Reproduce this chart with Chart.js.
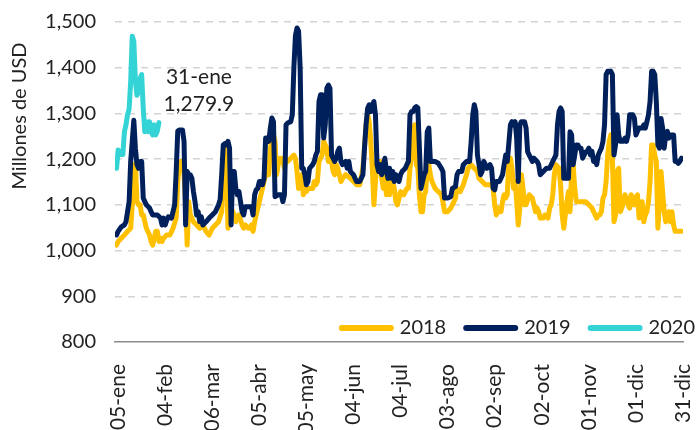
<!DOCTYPE html>
<html lang="es">
<head>
<meta charset="UTF-8">
<title>Millones de USD 2018-2020</title>
<script src="https://cdn.jsdelivr.net/npm/chart.js@4"></script>
<style>
  body { margin: 0; background: #fff; }
  #chart { display: block; }
</style>
</head>
<body>
<canvas id="chart" width="698" height="430"></canvas>
<script>
// x = days counted from 05-ene
const tickDays = [0, 30, 60, 90, 120, 150, 180, 210, 240, 270, 300, 330, 360];
const tickLabels = ['05-ene', '04-feb', '06-mar', '05-abr', '05-may', '04-jun', '04-jul',
                    '03-ago', '02-sep', '02-oct', '01-nov', '01-dic', '31-dic'];
const yTicks = [800, 900, 1000, 1100, 1200, 1300, 1400, 1500];

const days2018 = [-1,0,2,4,6,8,9,10,11,12,13,14,15,16,17,18,20,21,22,24,25,26,27,28,29,31,33,35,37,38,39,40,41,42,43,44,45,46,48,50,52,54,56,58,60,62,64,66,67,68,69,70,71,72,74,75,77,79,80,81,83,84,85,86,87,88,89,90,91,92,93,94,96,97,99,100,101,102,103,104,105,106,107,108,110,112,113,114,115,116,117,118,119,120,121,122,124,125,126,127,128,129,130,131,133,134,135,136,137,138,139,140,141,142,143,145,148,150,152,154,156,157,158,159,160,161,162,163,164,165,166,167,168,169,170,171,172,173,174,175,176,177,178,180,182,184,185,186,187,188,189,190,191,192,193,194,195,196,197,198,199,200,202,204,206,207,208,210,212,214,215,216,218,220,222,223,225,227,229,230,232,234,236,238,239,240,241,242,243,244,245,246,247,248,249,250,251,252,253,254,255,256,257,258,259,260,262,264,265,266,267,268,269,271,272,273,274,275,276,277,278,279,281,282,283,284,285,286,287,288,289,290,291,292,294,296,298,300,302,303,304,305,306,307,308,309,310,311,312,313,314,315,316,317,318,319,320,321,323,324,325,326,327,328,329,330,331,332,333,334,335,336,337,338,339,340,341,342,343,344,345,346,347,348,349,350,351,352,353,354,355,357,359];
const usd2018 = [1012,1020,1027,1034,1042,1049,1100,1150,1190,1107,1100,1100,1078,1078,1063,1049,1034,1020,1012,1042,1042,1020,1027,1020,1027,1034,1034,1049,1071,1151,1188,1195,1195,1166,1107,1012,1107,1078,1063,1056,1049,1056,1042,1034,1049,1056,1063,1085,1173,1224,1180,1049,1078,1093,1078,1063,1078,1056,1049,1056,1049,1049,1056,1042,1063,1078,1093,1107,1122,1136,1151,1166,1166,1224,1253,1239,1166,1188,1202,1202,1195,1180,1202,1195,1202,1209,1202,1173,1136,1150,1166,1122,1144,1129,1136,1136,1136,1151,1144,1151,1195,1202,1209,1239,1224,1195,1202,1195,1173,1166,1188,1180,1166,1151,1158,1166,1158,1151,1144,1144,1180,1224,1275,1297,1282,1239,1180,1100,1151,1195,1195,1195,1158,1136,1166,1122,1151,1122,1144,1151,1136,1107,1100,1129,1122,1136,1136,1180,1209,1268,1275,1188,1180,1122,1085,1085,1122,1129,1188,1188,1166,1151,1136,1129,1122,1107,1085,1085,1093,1107,1115,1136,1129,1144,1166,1180,1188,1180,1173,1158,1151,1144,1144,1144,1136,1100,1078,1093,1085,1085,1107,1122,1115,1122,1195,1202,1180,1136,1151,1107,1056,1093,1166,1136,1100,1100,1122,1115,1100,1085,1093,1085,1071,1071,1078,1078,1071,1093,1100,1122,1166,1188,1180,1144,1078,1049,1078,1107,1129,1085,1173,1188,1136,1107,1107,1107,1107,1100,1093,1085,1078,1071,1078,1078,1085,1115,1122,1151,1209,1239,1253,1202,1063,1078,1173,1180,1085,1093,1122,1115,1100,1093,1122,1115,1100,1115,1122,1071,1100,1107,1063,1078,1085,1107,1151,1231,1231,1209,1195,1049,1107,1173,1129,1085,1063,1078,1085,1063,1085,1056,1042,1042,1042];

const days2019 = [-1,0,2,4,5,6,7,8,9,10,11,12,13,14,15,16,17,18,20,21,22,25,27,28,29,30,31,32,34,36,37,38,39,40,41,42,43,44,45,46,47,48,49,50,51,52,53,54,56,58,60,62,64,65,66,67,68,69,70,71,72,73,74,75,76,77,78,79,80,81,83,85,86,87,88,89,90,91,92,93,94,95,96,97,98,99,100,102,104,105,106,107,108,110,111,112,113,114,115,116,117,118,119,120,121,122,124,125,126,127,128,129,130,131,132,133,134,135,136,137,138,139,140,141,142,143,145,146,147,148,150,151,152,154,156,157,158,159,160,161,162,163,164,165,166,167,168,169,170,171,172,173,174,175,176,177,178,179,180,181,183,184,185,186,187,188,189,190,191,192,193,194,195,196,197,198,199,200,202,204,206,207,208,210,212,213,215,216,217,219,220,222,224,225,226,227,228,229,230,231,232,233,234,235,237,238,239,240,241,243,245,246,247,248,250,251,252,253,254,255,256,257,258,259,260,261,262,264,265,267,268,269,271,273,275,277,279,280,281,282,283,284,286,287,288,289,290,291,292,293,294,295,296,297,298,299,300,301,302,303,304,305,306,307,308,309,310,311,312,314,315,316,317,318,319,320,322,323,324,325,326,328,329,330,331,332,334,335,336,337,338,339,340,341,342,343,344,345,346,347,348,349,350,351,352,354,355,356,357,358,359];
const usd2019 = [1034,1042,1052,1056,1063,1085,1107,1195,1239,1285,1224,1188,1180,1195,1195,1115,1107,1100,1093,1085,1078,1078,1071,1056,1071,1056,1067,1074,1071,1100,1173,1261,1264,1264,1264,1239,1056,1173,1166,1166,1158,1129,1107,1078,1085,1063,1074,1056,1063,1071,1078,1085,1100,1111,1166,1231,1234,1231,1239,1224,1056,1173,1173,1136,1122,1129,1107,1085,1078,1096,1096,1096,1078,1122,1133,1136,1151,1151,1144,1158,1246,1246,1239,1268,1290,1282,1118,1122,1122,1107,1122,1275,1279,1282,1297,1400,1470,1487,1480,1400,1180,1180,1166,1144,1151,1180,1188,1195,1209,1217,1326,1341,1341,1246,1275,1355,1362,1355,1209,1202,1195,1202,1217,1224,1195,1188,1195,1180,1195,1173,1166,1158,1151,1151,1166,1224,1275,1311,1319,1304,1319,1326,1297,1188,1173,1188,1166,1188,1202,1173,1158,1180,1158,1173,1151,1166,1160,1151,1166,1173,1180,1188,1195,1297,1304,1304,1312,1315,1312,1224,1136,1151,1166,1173,1260,1268,1195,1195,1195,1191,1180,1173,1115,1115,1118,1136,1140,1166,1173,1173,1188,1195,1195,1239,1297,1319,1304,1209,1188,1166,1173,1195,1188,1180,1188,1180,1136,1133,1151,1151,1166,1188,1209,1195,1275,1282,1275,1282,1246,1151,1275,1282,1282,1282,1268,1216,1209,1195,1202,1195,1188,1166,1173,1180,1180,1195,1209,1275,1304,1312,1304,1158,1158,1158,1260,1253,1188,1209,1231,1231,1224,1224,1202,1209,1216,1217,1224,1209,1217,1195,1202,1188,1209,1217,1224,1239,1275,1385,1392,1392,1385,1209,1231,1297,1253,1239,1239,1246,1239,1253,1297,1297,1290,1253,1261,1268,1268,1275,1268,1282,1297,1326,1392,1392,1385,1326,1231,1224,1289,1268,1224,1253,1261,1246,1253,1253,1195,1195,1191,1195,1202];

const days2020 = [-1,0,1,2,3,4,5,6,7,8,9,10,11,12,13,14,15,16,17,18,19,20,21,22,23,24,25,26];
const usd2020 = [1180,1220,1210,1217,1210,1260,1275,1297,1310,1370,1469,1458,1370,1340,1348,1377,1385,1310,1260,1282,1260,1282,1260,1253,1275,1253,1262,1279.9];

const seriesNames = ['2018', '2019', '2020'];
const seriesColors = ['#FFC000', '#00205B', '#33D3D6'];
const noteDay = 26;
const noteValue = 1279.9;

const toPoints = (days, vals) => days.map((d, i) => ({ x: d, y: vals[i] }));

const textColor = '#222222';

// legend, y title and the 31-ene note, drawn on the canvas
const extras = {
  id: 'extras',
  afterDraw(chart) {
    const ctx = chart.ctx;
    ctx.save();
    ctx.fillStyle = textColor;

    // y title
    ctx.save();
    ctx.translate(20, 116);
    ctx.rotate(-Math.PI / 2);
    ctx.font = '20px Lato';
    ctx.textAlign = 'center';
    ctx.textBaseline = 'middle';
    ctx.fillText('Millones de USD', 0, 0);
    ctx.restore();

    // note for last 2020 value
    const xs = chart.scales.x, ys = chart.scales.y;
    const nx = xs.getPixelForValue(noteDay) + 40;
    const ny = ys.getPixelForValue(noteValue);
    ctx.font = '21px Lato';
    ctx.textAlign = 'center';
    ctx.textBaseline = 'middle';
    ctx.fillText('31-ene', nx, ny - 45);
    ctx.fillText('1,279.9', nx, ny - 18);

    // legend, right aligned
    ctx.font = '20px Lato';
    ctx.textAlign = 'left';
    const ly = 328;
    const lineW = 55, gap = 6, itemGap = 17;
    let x = 695;
    for (let i = seriesNames.length - 1; i >= 0; i--) {
      const tw = ctx.measureText(seriesNames[i]).width;
      x -= tw;
      ctx.fillStyle = textColor;
      ctx.fillText(seriesNames[i], x, ly);
      x -= gap;
      ctx.strokeStyle = seriesColors[i];
      ctx.lineWidth = 6;
      ctx.lineCap = 'round';
      ctx.beginPath();
      ctx.moveTo(x - lineW + 3, ly);
      ctx.lineTo(x - 3, ly);
      ctx.stroke();
      x -= lineW + itemGap;
    }
    ctx.restore();
  }
};

new Chart(document.getElementById('chart'), {
  type: 'line',
  data: {
    datasets: [
      { label: seriesNames[0], data: toPoints(days2018, usd2018), borderColor: seriesColors[0], order: 3 },
      { label: seriesNames[1], data: toPoints(days2019, usd2019), borderColor: seriesColors[1], order: 2 },
      { label: seriesNames[2], data: toPoints(days2020, usd2020), borderColor: seriesColors[2], order: 1 }
    ]
  },
  options: {
    responsive: false,
    devicePixelRatio: 1,
    animation: false,
    layout: { padding: { top: 22, right: 15, bottom: 0, left: 0 } },
    elements: {
      line: { borderWidth: 5, tension: 0, borderCapStyle: 'round', borderJoinStyle: 'round' },
      point: { radius: 0 }
    },
    plugins: {
      legend: { display: false },
      tooltip: { enabled: false }
    },
    scales: {
      x: {
        type: 'linear',
        min: -2,
        max: 360,
        afterBuildTicks: scale => { scale.ticks = tickDays.map(v => ({ value: v })); },
        afterFit: scale => {
          scale.height = 88;
          scale.paddingLeft = 0;
          scale.paddingRight = 0;
        },
        grid: { display: false },
        border: { display: true, color: '#8c8c8c', width: 1.5 },
        ticks: {
          autoSkip: false,
          minRotation: 90,
          maxRotation: 90,
          padding: 14,
          color: textColor,
          font: { family: 'Lato', size: 21 },
          callback: (value) => tickLabels[tickDays.indexOf(value)]
        }
      },
      y: {
        min: 800,
        max: 1500,
        afterBuildTicks: scale => { scale.ticks = yTicks.map(v => ({ value: v })); },
        afterFit: scale => {
          scale.width = 115;
          scale.paddingTop = 0;
          scale.paddingBottom = 0;
        },
        grid: {
          drawTicks: false,
          lineWidth: 1.5,
          color: c => (c.tick && c.tick.value === 800) ? 'rgba(0,0,0,0)' : '#d4d4d4'
        },
        border: { display: false, dash: [7, 6] },
        ticks: {
          padding: 19,
          color: textColor,
          font: { family: 'Lato', size: 20 },
          callback: v => v.toLocaleString('en-US')
        }
      }
    }
  },
  plugins: [extras]
});
</script>
</body>
</html>
